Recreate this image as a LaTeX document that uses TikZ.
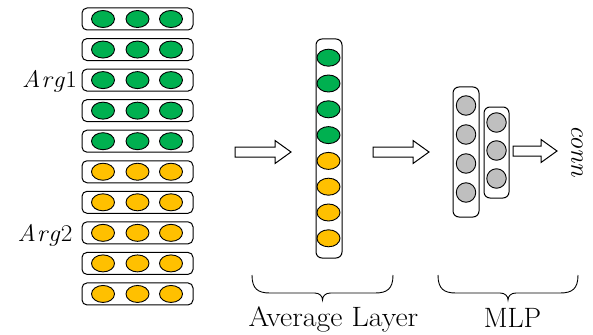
\documentclass[tikz,border=0pt]{standalone}
\usepackage{fontspec}
\usetikzlibrary{shapes.geometric}
\definecolor{argA}{HTML}{00B050}
\definecolor{argB}{HTML}{FFC000}
\definecolor{hidden}{HTML}{BFBFBF}
\begin{document}
\begin{tikzpicture}[x=1pt,y=-1pt,
  rowbox/.style={draw, rounded corners=5pt, minimum width=111pt, minimum height=22pt, line width=1pt, inner sep=0pt},
  colbox/.style={draw, rounded corners=6pt, line width=1pt, inner sep=0pt},
  unit/.style={ellipse, draw, line width=0.9pt, minimum width=23pt, minimum height=17pt, inner sep=0pt},
  hid/.style={circle, draw, line width=0.9pt, fill=hidden, minimum size=19.5pt, inner sep=0pt},
  arrowline/.style={draw, line width=1pt, fill=white, line join=miter},
  braceline/.style={draw, line width=0.9pt},
  biglabel/.style={font=\rmfamily\fontsize{28}{28}\selectfont, inner sep=0pt},
  arglabel/.style={font=\rmfamily\fontsize{24}{24}\selectfont, inner sep=0pt, xscale=1.05},
  blockarrow/.pic={
    \path[arrowline] (0,-5) -- ({#1-16},-5) -- ({#1-16},-11.5) -- (#1,0)
      -- ({#1-16},11.5) -- ({#1-16},5) -- (0,5) -- cycle;
  },
  underbrace/.pic={
    \path[braceline] (0,0) .. controls (0,14) and (6,18) .. (18,18)
      -- ({#1/2-8},18) .. controls ({#1/2-3},18) and ({#1/2},21) .. ({#1/2},25)
      .. controls ({#1/2},21) and ({#1/2+3},18) .. ({#1/2+8},18)
      -- ({#1-18},18) .. controls ({#1-6},18) and (#1,14) .. (#1,0);
  }]
\useasboundingbox (0,0) rectangle (593,334);

% input rows: five for Arg1 (green), five for Arg2 (yellow)
\foreach \i/\c in {1/argA,2/argA,3/argA,4/argA,5/argA,6/argB,7/argB,8/argB,9/argB,10/argB} {
  \node[rowbox] (row\i) at (137.5,{19+30.55*(\i-1)}) {};
  \foreach \j/\x in {a/103,b/137.5,c/171}
    \node[unit, fill=\c] (row\i\j) at (\x,{19+30.55*(\i-1)}) {};
}
\node[arglabel, anchor=base] (arg1) at (49.5,88) {\itshape A\kern1pt r\kern1pt g\kern1pt\upshape 1};
\node[arglabel, anchor=base] (arg2) at (45,241) {\itshape A\kern1pt r\kern1pt g\kern1pt\upshape 2};

% average layer
\node[colbox, minimum width=26pt, minimum height=219pt] (avg) at (329,148.5) {};
\foreach \k/\c in {1/argA,2/argA,3/argA,4/argA,5/argB,6/argB,7/argB,8/argB}
  \node[unit, fill=\c] (avg\k) at (328.5,{57.7+25.8*(\k-1)}) {};

% MLP
\node[colbox, minimum width=26pt, minimum height=130pt] (mlpA) at (466,152) {};
\foreach \k in {1,...,4}
  \node[hid] (mlpA\k) at (466,{105.5+29*(\k-1)}) {};
\node[colbox, minimum width=25pt, minimum height=91pt] (mlpB) at (496.5,152.5) {};
\foreach \k in {1,...,3}
  \node[hid] (mlpB\k) at (496.5,{122.5+28*(\k-1)}) {};

% block arrows
\pic at (235,152) {blockarrow=56};
\pic at (373,152) {blockarrow=56};
\pic at (513,151) {blockarrow=44};

\node[inner sep=0pt, rotate=-90, font=\rmfamily\itshape\fontsize{26}{26}\selectfont] (conn) at (577,151) {conn};

% braces and captions
\pic at (252,275) {underbrace=141};
\pic at (438,275) {underbrace=140};
\node[biglabel, anchor=base, xscale=1.07] (avgcap) at (333.5,326) {Average Layer};
\node[biglabel, anchor=base] (mlpcap) at (512.5,327) {MLP};
\end{tikzpicture}
\end{document}
